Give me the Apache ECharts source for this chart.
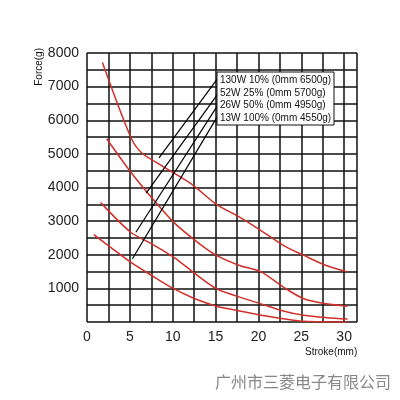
<!DOCTYPE html>
<html>
<head>
<meta charset="utf-8">
<script src="https://cdn.jsdelivr.net/npm/echarts@6/dist/echarts.min.js"></script>
<style>html,body{margin:0;background:#fff}#main{width:400px;height:400px}</style>
</head>
<body>
<div id="main"></div>
<script>
var legendNames = ['130W 10% (0mm 6500g)', '52W 25% (0mm 5700g)', '26W 50% (0mm 4950g)', '13W 100% (0mm 4550g)'];
var curve130 = [[1.8,7720],[5.1,5500],[6.3,5050],[8.7,4650],[12.2,4100],[15.1,3500],[17.8,3120],[20.3,2720],[22.9,2280],[25.3,1980],[27.9,1680],[30.4,1490]];
var curve52 = [[2.3,5450],[5.1,4460],[7.5,3710],[10.1,2970],[12.6,2430],[15.1,1980],[17.8,1680],[20.3,1490],[22.9,1040],[25.3,690],[27.9,540],[30.4,470]];
var curve26 = [[1.6,3550],[5.1,2670],[7.5,2330],[10.1,1930],[12.6,1440],[15.1,990],[17.8,740],[20.3,540],[22.9,330],[25.3,200],[27.9,130],[30.4,90]];
var curve13 = [[0.8,2600],[5.1,1780],[7.5,1390],[10.1,990],[12.6,690],[15.1,470],[17.8,330],[20.3,200],[22.9,100],[25.3,20],[30.4,0]];
// leader lines: [box end, curve end]
var leaders = [
    [[15.4,7300],[8.4,4880]],
    [[15.4,6830],[6.9,3830]],
    [[15.4,6500],[5.7,2670]],
    [[15.4,6190],[5.3,1880]]
];

var myChart = echarts.init(document.getElementById('main'));
var curves = [curve130, curve52, curve26, curve13];
var series = curves.map(function (c, i) {
    return {
        name: legendNames[i], type: 'line', data: c, smooth: 0.3, symbol: 'none',
        lineStyle: { color: '#d0302a', width: 1.5 }
    };
});
leaders.forEach(function (l) {
    series.push({ type: 'line', data: l, symbol: 'none', lineStyle: { color: '#000', width: 1.2 }, z: 3 });
});
var option = {
    animation: false,
    grid: { left: 87, top: 53, right: 43, bottom: 78 },
    xAxis: {
        type: 'value', min: 0, max: 31.5, interval: 2.5,
        axisLine: { show: false }, axisTick: { show: false },
        splitLine: { lineStyle: { color: '#111', width: 1.5 } },
        axisLabel: {
            fontSize: 14, color: '#222', fontFamily: 'Arial',
            formatter: function (v) { return (v % 5 === 0 && v <= 30) ? v : ''; }
        }
    },
    yAxis: {
        type: 'value', min: 0, max: 8000, interval: 500,
        axisLine: { show: false }, axisTick: { show: false },
        splitLine: { lineStyle: { color: '#111', width: 1.5 } },
        axisLabel: {
            fontSize: 14, color: '#222', fontFamily: 'Arial',
            formatter: function (v) { return (v % 1000 === 0 && v > 0) ? v : ''; }
        }
    },
    graphic: [
        { type: 'rect', shape: { x: 217, y: 72, width: 117, height: 53 }, style: { fill: '#fff', stroke: '#111', lineWidth: 1 }, z: 10 },
        { type: 'text', left: 220, top: 74, z: 11, style: { text: legendNames.join('\n'), fontSize: 10, lineHeight: 12.5, fill: '#111', fontFamily: 'Arial' } },
        { type: 'text', left: 34, top: 48, rotation: Math.PI / 2, z: 11, style: { text: 'Force(g)', fontSize: 10, fill: '#111', fontFamily: 'Arial' } },
        { type: 'text', left: 305, top: 347, z: 11, style: { text: 'Stroke(mm)', fontSize: 10, fill: '#111', fontFamily: 'Arial' } },
        { type: 'text', left: 215, top: 374, z: 11, style: { text: '广州市三菱电子有限公司', fontSize: 16, fill: '#888', fontFamily: 'Noto Sans CJK SC' } }
    ],
    series: series
};
myChart.setOption(option);
</script>
</body>
</html>
